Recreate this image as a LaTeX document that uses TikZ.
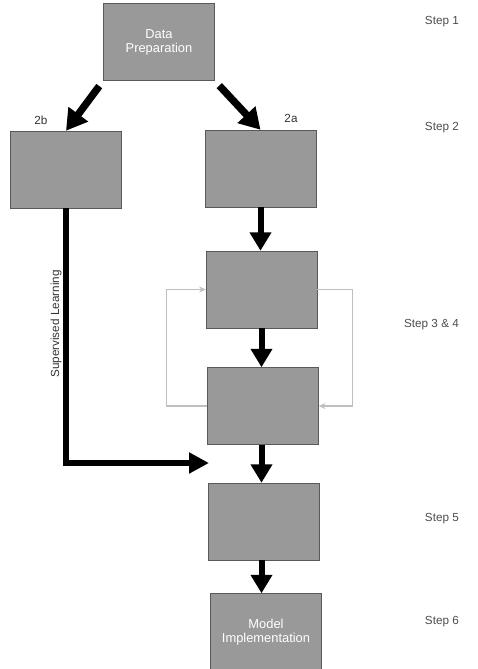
\documentclass[tikz,border=0pt]{standalone}
\usepackage{fontspec}
\setmainfont{Liberation Sans}
\usetikzlibrary{arrows.meta, positioning}

\tikzset{
  stagebox/.style={shape=rectangle, draw=black!65, line width=0.4pt, fill=black!40,
    minimum width=3.33cm, minimum height=2.31cm, text=white, align=center,
    font=\fontsize{11}{12}\selectfont, inner sep=2pt},
  bigarrow/.style={line width=0.18cm, -{Triangle[length=0.55cm, width=0.62cm]}},
  diagarrow/.style={line width=0.22cm, -{Triangle[length=0.62cm, width=0.7cm]}},
  feedline/.style={draw=black!25, line width=1.2pt, -{Stealth[length=0.2cm, width=0.18cm]}},
  steplabel/.style={anchor=east, text=black!70, font=\fontsize{10}{12}\selectfont},
  branchlabel/.style={text=black!80, font=\fontsize{10}{12}\selectfont}
}

\begin{document}
\begin{tikzpicture}[x=0.03cm, y=-0.03cm]
			\useasboundingbox (0, 0) rectangle (478, 669);
			% Boxes:
			\node[stagebox] (prep) at (159, 42) {Data\\Preparation};
			\node[stagebox] (sup) at (66, 169.5) {};
			\node[stagebox] (unsup) at (260.5, 168.5) {};
			\node[stagebox] (train) at (261.5, 289.5) {};
			\node[stagebox] (test) at (263, 406) {};
			\node[stagebox] (select) at (263.5, 521.5) {};
			\node[stagebox] (deploy) at (266, 632) {Model\\Implementation};
			% Labels:
			\node[branchlabel] (lbl2b) at (41, 120) {2b};
			\node[branchlabel] (lbl2a) at (291, 118) {2a};
			\node[branchlabel, rotate=90] (lblsup) at (56, 324) {Supervised Learning};
			\node[steplabel] (step1) at (463, 22) {Step 1};
			\node[steplabel] (step2) at (463, 128) {Step 2};
			\node[steplabel] (step34) at (463, 325) {Step 3 \& 4};
			\node[steplabel] (step5) at (463, 519) {Step 5};
			\node[steplabel] (step6) at (463, 622) {Step 6};
			\coordinate (merge) at (209, 463);
			% Arrows:
			\draw[diagarrow, shorten <=0.2cm] (prep.south west) -- (sup.north);
			\draw[diagarrow, shorten <=0.2cm] (prep.south east) -- (unsup.north);
			\draw[bigarrow] (unsup.south) -- (unsup.south |- train.north);
			\draw[bigarrow] (train.south) -- (train.south |- test.north);
			\draw[bigarrow] (train.south |- test.south) -- (train.south |- select.north);
			\draw[bigarrow] (train.south |- select.south) -- (train.south |- deploy.north);
			\draw[line width=0.16cm, -{Triangle[length=0.6cm, width=0.6cm]}] (sup.south) |- (merge);
			\draw[feedline] (test.west) -- ++(-41, 0) |- (train.west);
			\draw[feedline] (train.east) -- ++(35, 0) |- (test.east);
		\end{tikzpicture}
\end{document}
